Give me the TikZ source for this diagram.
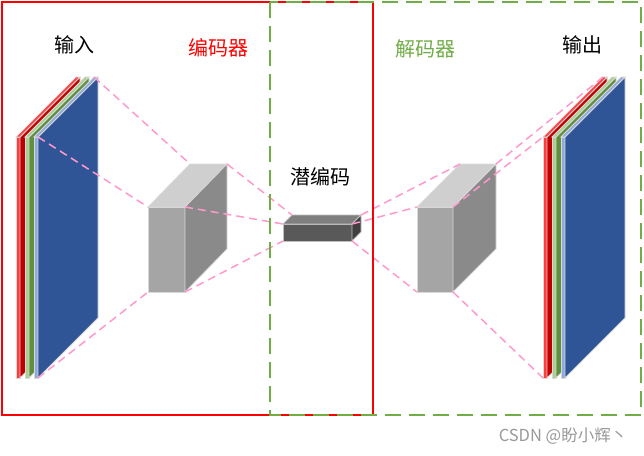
\documentclass[tikz,border=0pt]{standalone}
\usepackage{fontspec}
\newfontfamily\cjk{Noto Sans CJK SC}
\usepackage{xcolor}

\definecolor{encred}{HTML}{FF0000}
\definecolor{decgreen}{HTML}{70AD47}
\definecolor{linkpink}{HTML}{FF99CC}
\definecolor{redside}{HTML}{C00000}
\definecolor{redfront}{HTML}{FF3B3B}
\definecolor{greenside}{HTML}{5F8F3F}
\definecolor{greenfront}{HTML}{A9D18E}
\definecolor{blueside}{HTML}{2F5597}
\definecolor{bluefront}{HTML}{8FAADC}
\definecolor{boxfront}{HTML}{A5A5A5}
\definecolor{boxtop}{HTML}{CFCFCF}
\definecolor{boxside}{HTML}{8A8A8A}
\definecolor{latfront}{HTML}{595959}
\definecolor{lattop}{HTML}{7F7F7F}
\definecolor{latside}{HTML}{404040}

\tikzset{
  face/.style={draw=black!15, line width=0.8pt},
  plate/.style={face, minimum width=4pt, minimum height=241pt, inner sep=0pt, outer sep=0pt, anchor=north west},
  block/.style={face, inner sep=0pt, outer sep=0pt, anchor=north west},
  link/.style={linkpink, line width=1.5pt, dash pattern=on 8pt off 5pt},
  title/.style={font=\cjk\fontsize{20}{23}\selectfont},
}

% one thin coloured layer: name, x, side colour, front colour
\newcommand{\colourplate}[4]{
  \node[plate, fill=#4] (#1) at (#2,137) {};
  \coordinate (#1-back) at ([shift={(60,-60)}]#1.north west);
  \fill[#3, face] (#1.north east) -- ++(60,-60) -- ++(0,241) -- (#1.south east) -- cycle;
  \fill[#4, face] (#1.north west) -- (#1-back) -- ++(4,0) -- (#1.north east) -- cycle;
}

\begin{document}
\begin{tikzpicture}[x=1pt, y=-1pt]
\useasboundingbox (0,0) rectangle (644,455);

% input stack
\colourplate{inR}{16}{redside}{redfront}
\colourplate{inG}{25}{greenside}{greenfront}
\colourplate{inB}{34}{blueside}{bluefront}

% output stack
\colourplate{outR}{543}{redside}{redfront}
\colourplate{outG}{552}{greenside}{greenfront}
\colourplate{outB}{561}{blueside}{bluefront}

% encoder block
\node[block, fill=boxfront, minimum width=37pt, minimum height=85pt] (enc) at (148,207) {};
\coordinate (enc-back) at ([shift={(42,-43)}]enc.north west);
\coordinate (enc-back-r) at ([shift={(42,-43)}]enc.north east);
\fill[boxtop, face] (enc.north west) -- (enc-back) -- (enc-back-r) -- (enc.north east) -- cycle;
\fill[boxside, face] (enc.north east) -- (enc-back-r) -- ++(0,85) -- (enc.south east) -- cycle;

% latent code
\node[block, fill=latfront, minimum width=69pt, minimum height=17pt, draw=black!25] (lat) at (283,224) {};
\coordinate (lat-back) at ([shift={(9,-9)}]lat.north west);
\coordinate (lat-back-r) at ([shift={(9,-9)}]lat.north east);
\fill[lattop, face, draw=black!25] (lat.north west) -- (lat-back) -- (lat-back-r) -- (lat.north east) -- cycle;
\fill[latside, face, draw=black!25] (lat.north east) -- (lat-back-r) -- ++(0,17) -- (lat.south east) -- cycle;

% decoder block
\node[block, fill=boxfront, minimum width=36pt, minimum height=85pt] (dec) at (417,207) {};
\coordinate (dec-back) at ([shift={(43,-43)}]dec.north west);
\coordinate (dec-back-r) at ([shift={(43,-43)}]dec.north east);
\fill[boxtop, face] (dec.north west) -- (dec-back) -- (dec-back-r) -- (dec.north east) -- cycle;
\fill[boxside, face] (dec.north east) -- (dec-back-r) -- ++(0,85) -- (dec.south east) -- cycle;

% dashed links
\draw[link] (inB.north east) -- (enc.north west);
\draw[link] (inB-back) -- (enc-back);
\draw[link] (inB.south east) -- (enc.south west);
\draw[link] (enc.north east) -- (lat.north west);
\draw[link] (enc-back-r) -- (lat-back);
\draw[link] (enc.south east) -- (lat.south west);
\draw[link] (lat.north east) -- (dec.north west);
\draw[link] (lat-back-r) -- (dec-back);
\draw[link] (lat.south east) -- (dec.south west);
\draw[link] (dec.north east) -- (outR.north west);
\draw[link] (dec-back-r) -- (outR-back);
\draw[link] (dec.south east) -- (outR.south west);

% frames
\draw[encred, line width=2pt] (2,2) rectangle (373,415);
\draw[decgreen, line width=2pt, dash pattern=on 16pt off 8pt] (270,2) rectangle (641,415);

% labels
\node[title] (inlabel) at (74,45) {输入};
\node[title, text=encred] (enclabel) at (218,48) {编码器};
\node[title] (latlabel) at (320,177) {潜编码};
\node[title, text=decgreen] (declabel) at (425,49) {解码器};
\node[title] (outlabel) at (582,45) {输出};
\node[text=black!40, font=\cjk\fontsize{16.5}{19}\selectfont] (mark) at (563,436) {CSDN @盼小辉丶};

\end{tikzpicture}
\end{document}
